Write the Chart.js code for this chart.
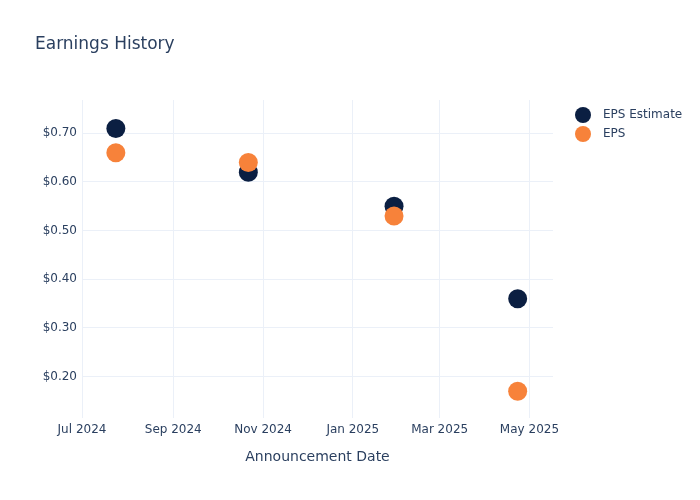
<!DOCTYPE html>
<html>
<head>
<meta charset="utf-8">
<script src="https://cdn.jsdelivr.net/npm/chart.js@4"></script>
<style>
  html, body { margin: 0; padding: 0; background: #fff; }
</style>
</head>
<body>
<canvas id="earnings" width="700" height="500"></canvas>
<script>
const announceDates = ['2024-07-24', '2024-10-22', '2025-01-29', '2025-04-23'];
const epsEstimate = [0.71, 0.62, 0.55, 0.36];
const epsActual = [0.66, 0.64, 0.53, 0.17];
const seriesNames = ['EPS Estimate', 'EPS'];
const seriesColors = ['#0b1f42', '#f7823a'];
const xTickDates = ['2024-07-01', '2024-09-01', '2024-11-01', '2025-01-01', '2025-03-01', '2025-05-01'];
const xTickLabels = ['Jul 2024', 'Sep 2024', 'Nov 2024', 'Jan 2025', 'Mar 2025', 'May 2025'];
const yTicks = [0.2, 0.3, 0.4, 0.5, 0.6, 0.7];

const FONT = "'DejaVu Sans', Verdana, sans-serif";
const TEXT = '#2a3f5f';
const GRID = '#ebf0f8';

function points(values) {
  return announceDates.map((d, i) => ({ x: Date.parse(d), y: values[i] }));
}

// title, axis title and legend drawn by hand so they sit where plotly put them
const decorations = {
  id: 'decorations',
  afterDraw(chart) {
    const ctx = chart.ctx;
    const area = chart.chartArea;
    ctx.save();
    ctx.fillStyle = TEXT;
    ctx.textBaseline = 'middle';

    ctx.font = '17px ' + FONT;
    ctx.textAlign = 'left';
    ctx.fillText('Earnings History', 35, 45);

    ctx.font = '14px ' + FONT;
    ctx.textAlign = 'center';
    ctx.fillText('Announcement Date', (area.left + area.right) / 2, 457);

    ctx.font = '12px ' + FONT;
    ctx.textAlign = 'left';
    seriesNames.forEach((name, i) => {
      const y = 115 + i * 19;
      ctx.beginPath();
      ctx.fillStyle = seriesColors[i];
      ctx.arc(583, y, 8, 0, Math.PI * 2);
      ctx.fill();
      ctx.fillStyle = TEXT;
      ctx.fillText(name, 603, y);
    });
    ctx.restore();
  }
};

new Chart('earnings', {
  type: 'scatter',
  data: {
    datasets: [
      {
        label: seriesNames[0],
        data: points(epsEstimate),
        backgroundColor: seriesColors[0],
        borderWidth: 0,
        pointRadius: 9.5,
        order: 1
      },
      {
        label: seriesNames[1],
        data: points(epsActual),
        backgroundColor: seriesColors[1],
        borderWidth: 0,
        pointRadius: 9.5,
        order: 0
      }
    ]
  },
  options: {
    responsive: false,
    animation: false,
    layout: { padding: { top: 100, right: 147, left: 0, bottom: 0 } },
    plugins: {
      legend: { display: false },
      title: { display: false },
      tooltip: { enabled: false }
    },
    scales: {
      x: {
        type: 'linear',
        min: Date.parse('2024-07-01'),
        max: Date.parse('2025-05-17'),
        afterBuildTicks(scale) {
          scale.ticks = xTickDates.map(d => ({ value: Date.parse(d) }));
        },
        afterFit(scale) { scale.height = 82; },
        ticks: {
          color: TEXT,
          font: { family: FONT, size: 12 },
          padding: 5,
          maxRotation: 0,
          autoSkip: false,
          callback: (v, i) => xTickLabels[i]
        },
        grid: { color: GRID, drawTicks: false },
        border: { display: false }
      },
      y: {
        min: 0.115,
        max: 0.7685,
        afterBuildTicks(scale) {
          scale.ticks = yTicks.map(v => ({ value: v }));
        },
        afterFit(scale) { scale.width = 82; },
        ticks: {
          color: TEXT,
          font: { family: FONT, size: 12 },
          padding: 5,
          callback: v => '$' + v.toFixed(2)
        },
        grid: { color: GRID, drawTicks: false },
        border: { display: false }
      }
    }
  },
  plugins: [decorations]
});
</script>
</body>
</html>
